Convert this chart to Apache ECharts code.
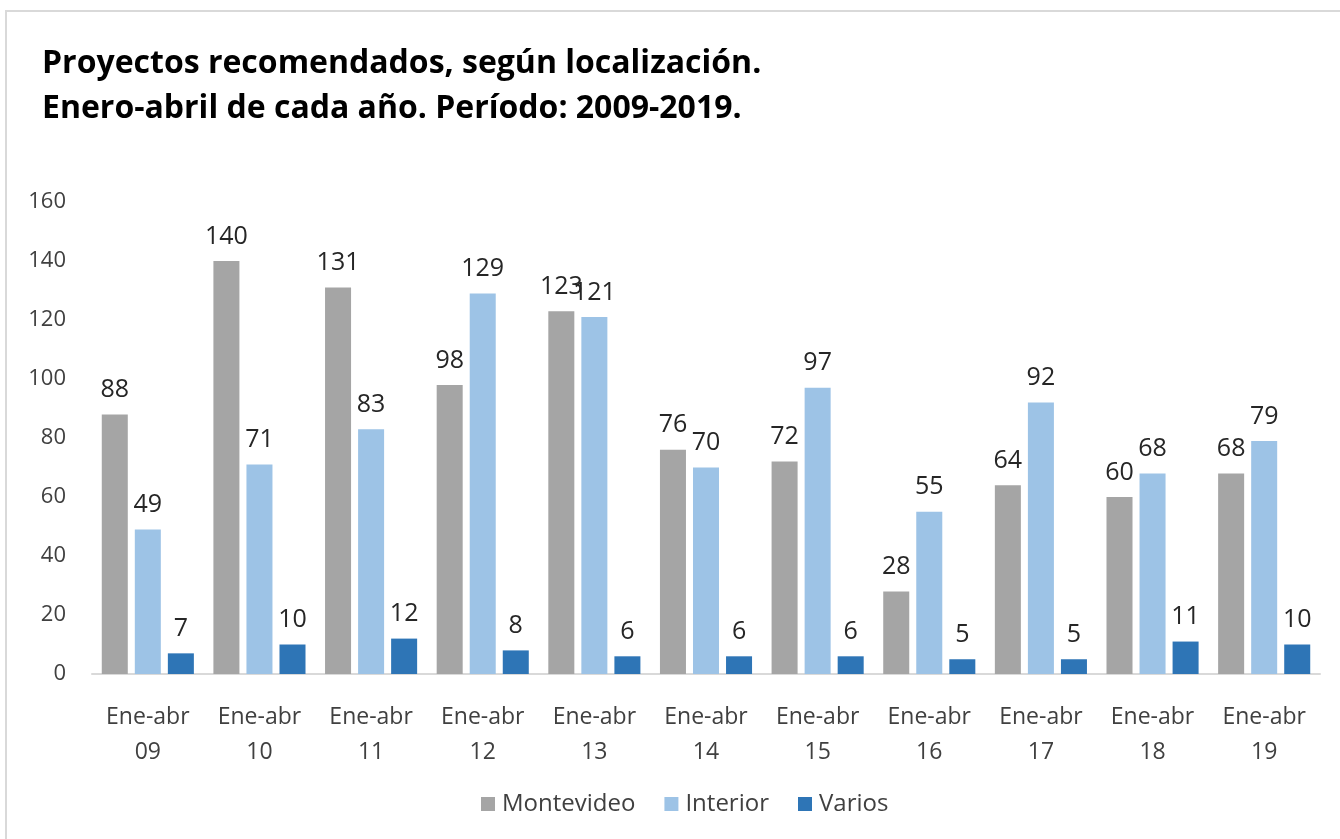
<!DOCTYPE html>
<html><head><meta charset="utf-8">
<script src="https://cdn.jsdelivr.net/npm/echarts@6/dist/echarts.min.js"></script>
<style>html,body{margin:0;padding:0;background:#fff}#c{width:1340px;height:839px}</style>
</head><body><div id="c"></div>
<script>
const categories = ['Ene-abr\n09','Ene-abr\n10','Ene-abr\n11','Ene-abr\n12','Ene-abr\n13','Ene-abr\n14','Ene-abr\n15','Ene-abr\n16','Ene-abr\n17','Ene-abr\n18','Ene-abr\n19'];
const montevideo = [88,140,131,98,123,76,72,28,64,60,68];
const interior = [49,71,83,129,121,70,97,55,92,68,79];
const varios = [7,10,12,8,6,6,6,5,5,11,10];
const FONT = '"Open Sans", sans-serif';
const chart = echarts.init(document.getElementById('c'));
const lbl = {show:true, position:'top', distance:12, color:'#262626', fontSize:25, fontFamily:FONT};
chart.setOption({
  animation:false,
  graphic:[{type:'rect', shape:{x:6,y:11,width:1400,height:900}, style:{fill:'none', stroke:'#D9D9D9', lineWidth:2}, silent:true}],
  title:{text:'Proyectos recomendados, según localización.\nEnero-abril de cada año. Período: 2009-2019.', left:37, top:36,
    textStyle:{fontFamily:FONT, fontWeight:'bold', fontSize:32, color:'#000', lineHeight:45}},
  legend:{bottom:18, left:476, itemWidth:14, itemHeight:14, itemGap:29, icon:'rect',
    textStyle:{fontFamily:FONT, fontSize:24, color:'#404040', padding:[0,0,0,2]}, data:['Montevideo','Interior','Varios']},
  grid:{left:92, right:20, top:202, bottom:165},
  xAxis:{type:'category', data:categories, axisLine:{lineStyle:{color:'#D9D9D9', width:2}}, axisTick:{show:false},
    axisLabel:{fontFamily:FONT, fontSize:23, color:'#404040', lineHeight:35, margin:26}},
  yAxis:{type:'value', min:0, max:160, interval:20, axisLine:{show:false}, axisTick:{show:false}, splitLine:{show:false},
    axisLabel:{fontFamily:FONT, fontSize:22, color:'#404040', margin:26}},
  series:[
    {name:'Montevideo', type:'bar', data:montevideo, itemStyle:{color:'#A5A5A5'}, barGap:'27%', barCategoryGap:'17.5%', label:lbl},
    {name:'Interior', type:'bar', data:interior, itemStyle:{color:'#9DC3E6'}, label:lbl},
    {name:'Varios', type:'bar', data:varios, itemStyle:{color:'#2E75B6'}, label:lbl}
  ]
});
</script></body></html>
